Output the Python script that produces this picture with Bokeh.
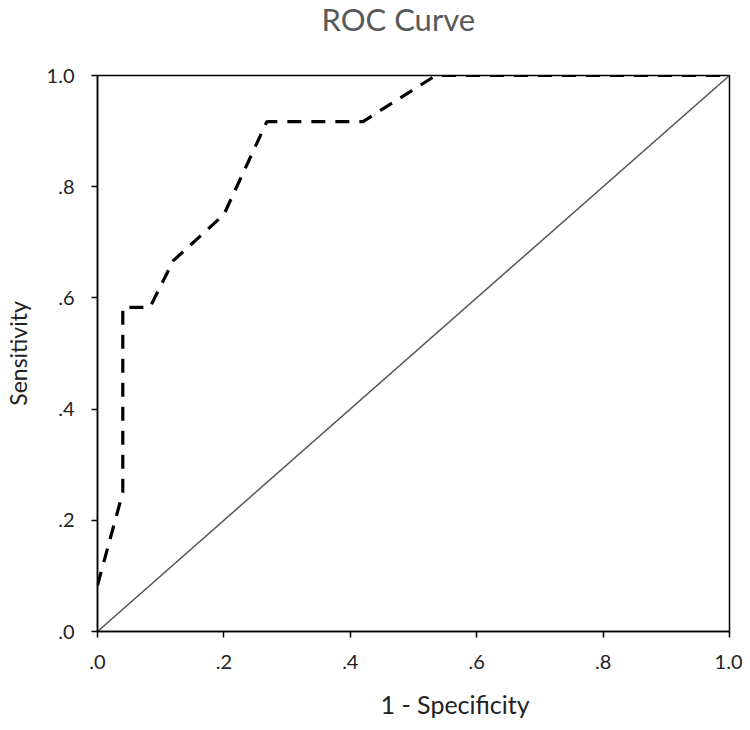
from bokeh.plotting import figure
from bokeh.models import FixedTicker, Range1d, Title
from bokeh.embed import file_html
from bokeh.resources import INLINE

# ROC curve data (1 - specificity, sensitivity)
fpr = [0.0, 0.04, 0.04, 0.083, 0.12, 0.2, 0.268, 0.42, 0.535, 1.0]
tpr = [0.083, 0.25, 0.583, 0.583, 0.667, 0.75, 0.917, 0.917, 1.0, 1.0]
# reference (chance) line
ref_x = [0.0, 1.0]
ref_y = [0.0, 1.0]

tick_vals = [0.0, 0.2, 0.4, 0.6, 0.8, 1.0]
tick_labels = [".0", ".2", ".4", ".6", ".8", "1.0"]

FONT = "Lato"

p = figure(width=742, height=722, frame_width=632, frame_height=556,
           output_backend="svg", toolbar_location=None,
           x_range=Range1d(0, 1), y_range=Range1d(0, 1),
           min_border_left=97, min_border_right=13, min_border_top=75, min_border_bottom=91,
           title=None)

p.grid.visible = False
p.outline_line_color = "black"
p.outline_line_width = 1.5
p.outline_line_alpha = 1.0

overrides = {v: l for v, l in zip(tick_vals, tick_labels)}
for ax in (p.xaxis[0], p.yaxis[0]):
    ax.ticker = FixedTicker(ticks=tick_vals)
    ax.major_label_overrides = overrides
    ax.major_tick_in = 0
    ax.major_tick_out = 6
    ax.minor_tick_line_color = None
    ax.axis_line_color = "black"
    ax.axis_line_width = 1.5
    ax.major_tick_line_color = "black"
    ax.major_tick_line_width = 1.5
    ax.major_label_text_font = FONT
    ax.major_label_text_font_size = "20px"
    ax.major_label_text_color = "#222222"

p.xaxis.major_label_standoff = 17
p.yaxis.major_label_standoff = 17
p.yaxis.axis_label = "Sensitivity"
p.yaxis.axis_label_standoff = 12
p.yaxis.axis_label_text_font = FONT
p.yaxis.axis_label_text_font_size = "23px"
p.yaxis.axis_label_text_font_style = "normal"
p.yaxis.axis_label_text_color = "#222222"

# spacer between frame and chart title
p.add_layout(Title(text=" ", text_font_size="10px", standoff=31), "above")
p.add_layout(Title(text="ROC Curve", align="left", offset=224, standoff=-12,
                   vertical_align="bottom", text_font=FONT, text_font_size="31px",
                   text_font_style="normal", text_color="#595959"), "above")

# spacer between x axis and its label
p.add_layout(Title(text=" ", text_font_size="1px", standoff=20), "below")
p.add_layout(Title(text="1 - Specificity", align="left", offset=283, standoff=-12,
                   vertical_align="top", text_font=FONT, text_font_size="25px",
                   text_font_style="normal", text_color="#222222"), "below")

p.line(ref_x, ref_y, line_color="#555555", line_width=1.5)
p.line(fpr, tpr, line_color="black", line_width=3.2, line_dash="14 10")

open("out.html", "w").write(file_html(p, INLINE))
